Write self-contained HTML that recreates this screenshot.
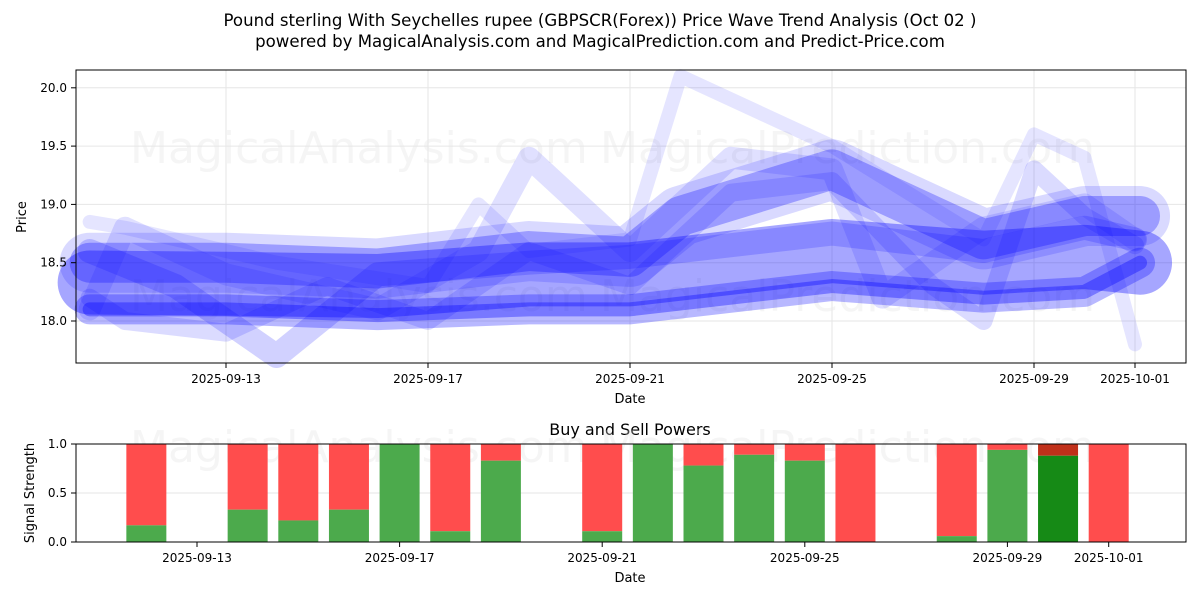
<!DOCTYPE html>
<html><head><meta charset="utf-8"><style>
body{margin:0;background:#fff;font-family:"Liberation Sans","DejaVu Sans",sans-serif}
</style></head><body>
<svg id="svg" width="1200" height="600" xmlns="http://www.w3.org/2000/svg" font-family="DejaVu Sans, Liberation Sans, sans-serif">
<rect width="1200" height="600" fill="#fff"/>
<text x="600" y="26" text-anchor="middle" font-size="16.6">Pound sterling With Seychelles rupee (GBPSCR(Forex)) Price Wave Trend Analysis (Oct 02 )</text>
<text x="600" y="47" text-anchor="middle" font-size="16.6">powered by MagicalAnalysis.com and MagicalPrediction.com and Predict-Price.com</text>
<g id="topg"></g>
<g id="botg"></g>
</svg>
<script>
// ---- data ----
const priceTicks=[18.0,18.5,19.0,19.5,20.0];
const dateTicks=["2025-09-13","2025-09-17","2025-09-21","2025-09-25","2025-09-29","2025-10-01"];
const dateTickDays=[3,7,11,15,19,21]; // days since 2025-09-10
const waveA_days=[0.3,1,4,7,8,9,11,12,15,18,19,20,21];
const waveA_vals=[18.85,18.8,18.5,18.3,19.0,18.6,18.7,20.1,19.5,18.7,19.6,19.4,17.8];
const waveB_days=[0.3,1,3,6,8,9,11,13,15,16,18,20,21];
const waveB_vals=[18.1,18.8,18.4,18.1,18.6,19.4,18.6,19.4,19.3,18.2,18.8,19.0,18.7];
const waveC_days=[0.3,3,6,9,11,12,15,18,20,21.1];
const waveC_vals=[18.5,18.5,18.45,18.6,18.55,18.9,19.3,18.7,18.9,18.9];
const waveD_days=[0.3,3,6,9,11,15,18,20,21.1];
const waveD_vals=[18.1,18.1,18.05,18.1,18.1,18.3,18.2,18.25,18.5];
const waveE_days=[0.3,1,3,5,7,9,11,13,15,17,18,19,20,21];
const waveE_vals=[18.2,18.0,17.9,18.3,18.0,18.6,18.3,19.1,19.2,18.3,18.0,19.3,18.9,18.65];
const waveF_days=[0.3,2,4,6,9,11,15,18,20,21];
const waveF_vals=[18.6,18.3,17.7,18.4,18.5,18.55,18.75,18.6,18.8,18.7];
const waveG_days=[0.3,3,6,9,11,15,18,20,21.1];
const waveG_vals=[18.33,18.32,18.3,18.4,18.4,18.6,18.5,18.55,18.5];
const barDays=[2,4,5,6,7,8,9,11,12,13,14,15,16,18,19,20,21];
const buyPower=[0.17,0.33,0.22,0.33,1.0,0.11,0.83,0.11,1.0,0.78,0.89,0.83,0,0.06,0.94,0.88,0];
const signalTicks=[0.0,0.5,1.0];

const NS="http://www.w3.org/2000/svg";
function mk(p,t,a){const e=document.createElementNS(NS,t);for(const k in a)e.setAttribute(k,a[k]);p.appendChild(e);return e;}
const gTop=document.getElementById('topg'),gBot=document.getElementById('botg');
const X=d=>226+(d-3)*50.5, Y=v=>321-(v-18)*116.6;
const xb=d=>197+(d-3)*50.65, yb=v=>542-v*98;
[[130,163,"MagicalAnalysis.com"],[600,163,"MagicalPrediction.com"],[130,311,"MagicalAnalysis.com"],[600,311,"MagicalPrediction.com"]].forEach(w=>{const t=mk(gTop,'text',{x:w[0],y:w[1],'font-size':44,fill:'#ddd','fill-opacity':0.3});t.textContent=w[2];});
priceTicks.forEach(v=>{mk(gTop,'line',{x1:76,x2:1186,y1:Y(v),y2:Y(v),stroke:'#e6e6e6'});});
dateTickDays.forEach(d=>{mk(gTop,'line',{x1:X(d),x2:X(d),y1:70,y2:363,stroke:'#e6e6e6'});});
const waves=[[waveA_days,waveA_vals,14,0.1],[waveB_days,waveB_vals,22,0.12],[waveG_days,waveG_vals,64,0.35],[waveC_days,waveC_vals,40,0.28],[waveD_days,waveD_vals,30,0.28],[waveE_days,waveE_vals,18,0.14],[waveF_days,waveF_vals,24,0.18],[waveC_days,waveC_vals,60,0.15],[waveD_days,waveD_vals,14,0.35]];
waves.forEach((w,i)=>{const pts=w[0].map((d,j)=>X(d)+','+Y(w[1][j])).join(' ');
 const p=mk(gTop,'polyline',{points:pts,fill:'none',stroke:'#0000ff','stroke-opacity':w[3],'stroke-width':w[2],'stroke-linejoin':'round','stroke-linecap':'round'});
 
 });
mk(gTop,'rect',{x:76,y:70,width:1110,height:293,fill:'none',stroke:'#000'});
priceTicks.forEach(v=>{mk(gTop,'line',{x1:71,x2:76,y1:Y(v),y2:Y(v),stroke:'#000'});const t=mk(gTop,'text',{x:67,y:Y(v)+4,'text-anchor':'end','font-size':12});t.textContent=v.toFixed(1);});
dateTicks.forEach((s,i)=>{const x=X(dateTickDays[i]);mk(gTop,'line',{x1:x,x2:x,y1:363,y2:368,stroke:'#000'});const t=mk(gTop,'text',{x:x,y:383,'text-anchor':'middle','font-size':12});t.textContent=s;});
let t=mk(gTop,'text',{x:630,y:403,'text-anchor':'middle','font-size':13});t.textContent='Date';
t=mk(gTop,'text',{x:26,y:217,'text-anchor':'middle','font-size':13,transform:'rotate(-90 26 217)'});t.textContent='Price';
t=mk(gBot,'text',{x:630,y:435,'text-anchor':'middle','font-size':16});t.textContent='Buy and Sell Powers';
[[130,462,"MagicalAnalysis.com"],[600,462,"MagicalPrediction.com"]].forEach(w=>{const e=mk(gBot,'text',{x:w[0],y:w[1],'font-size':44,fill:'#ddd','fill-opacity':0.3});e.textContent=w[2];});
signalTicks.forEach(v=>{mk(gBot,'line',{x1:76,x2:1186,y1:yb(v),y2:yb(v),stroke:'#e6e6e6'});});
barDays.forEach((d,i)=>{const b=buyPower[i],x=xb(d)-20;const dark=(i===15);
 const r=mk(gBot,'rect',{x:x,y:yb(1),width:40,height:yb(b)-yb(1),fill:dark?'#c0301a':'#ff4d4d'});
 
 
 const g=mk(gBot,'rect',{x:x,y:yb(b),width:40,height:yb(0)-yb(b),fill:dark?'#168a16':'#4caa4c'});
 
 });
mk(gBot,'rect',{x:76,y:444,width:1110,height:98,fill:'none',stroke:'#000'});
signalTicks.forEach(v=>{mk(gBot,'line',{x1:71,x2:76,y1:yb(v),y2:yb(v),stroke:'#000'});const e=mk(gBot,'text',{x:67,y:yb(v)+4,'text-anchor':'end','font-size':12});e.textContent=v.toFixed(1);});
dateTicks.forEach((s,i)=>{const x=xb(dateTickDays[i]);mk(gBot,'line',{x1:x,x2:x,y1:542,y2:547,stroke:'#000'});const e=mk(gBot,'text',{x:x,y:562,'text-anchor':'middle','font-size':12});e.textContent=s;});
t=mk(gBot,'text',{x:630,y:582,'text-anchor':'middle','font-size':13});t.textContent='Date';
t=mk(gBot,'text',{x:34,y:493,'text-anchor':'middle','font-size':13,transform:'rotate(-90 34 493)'});t.textContent='Signal Strength';
</script>
</body></html>
